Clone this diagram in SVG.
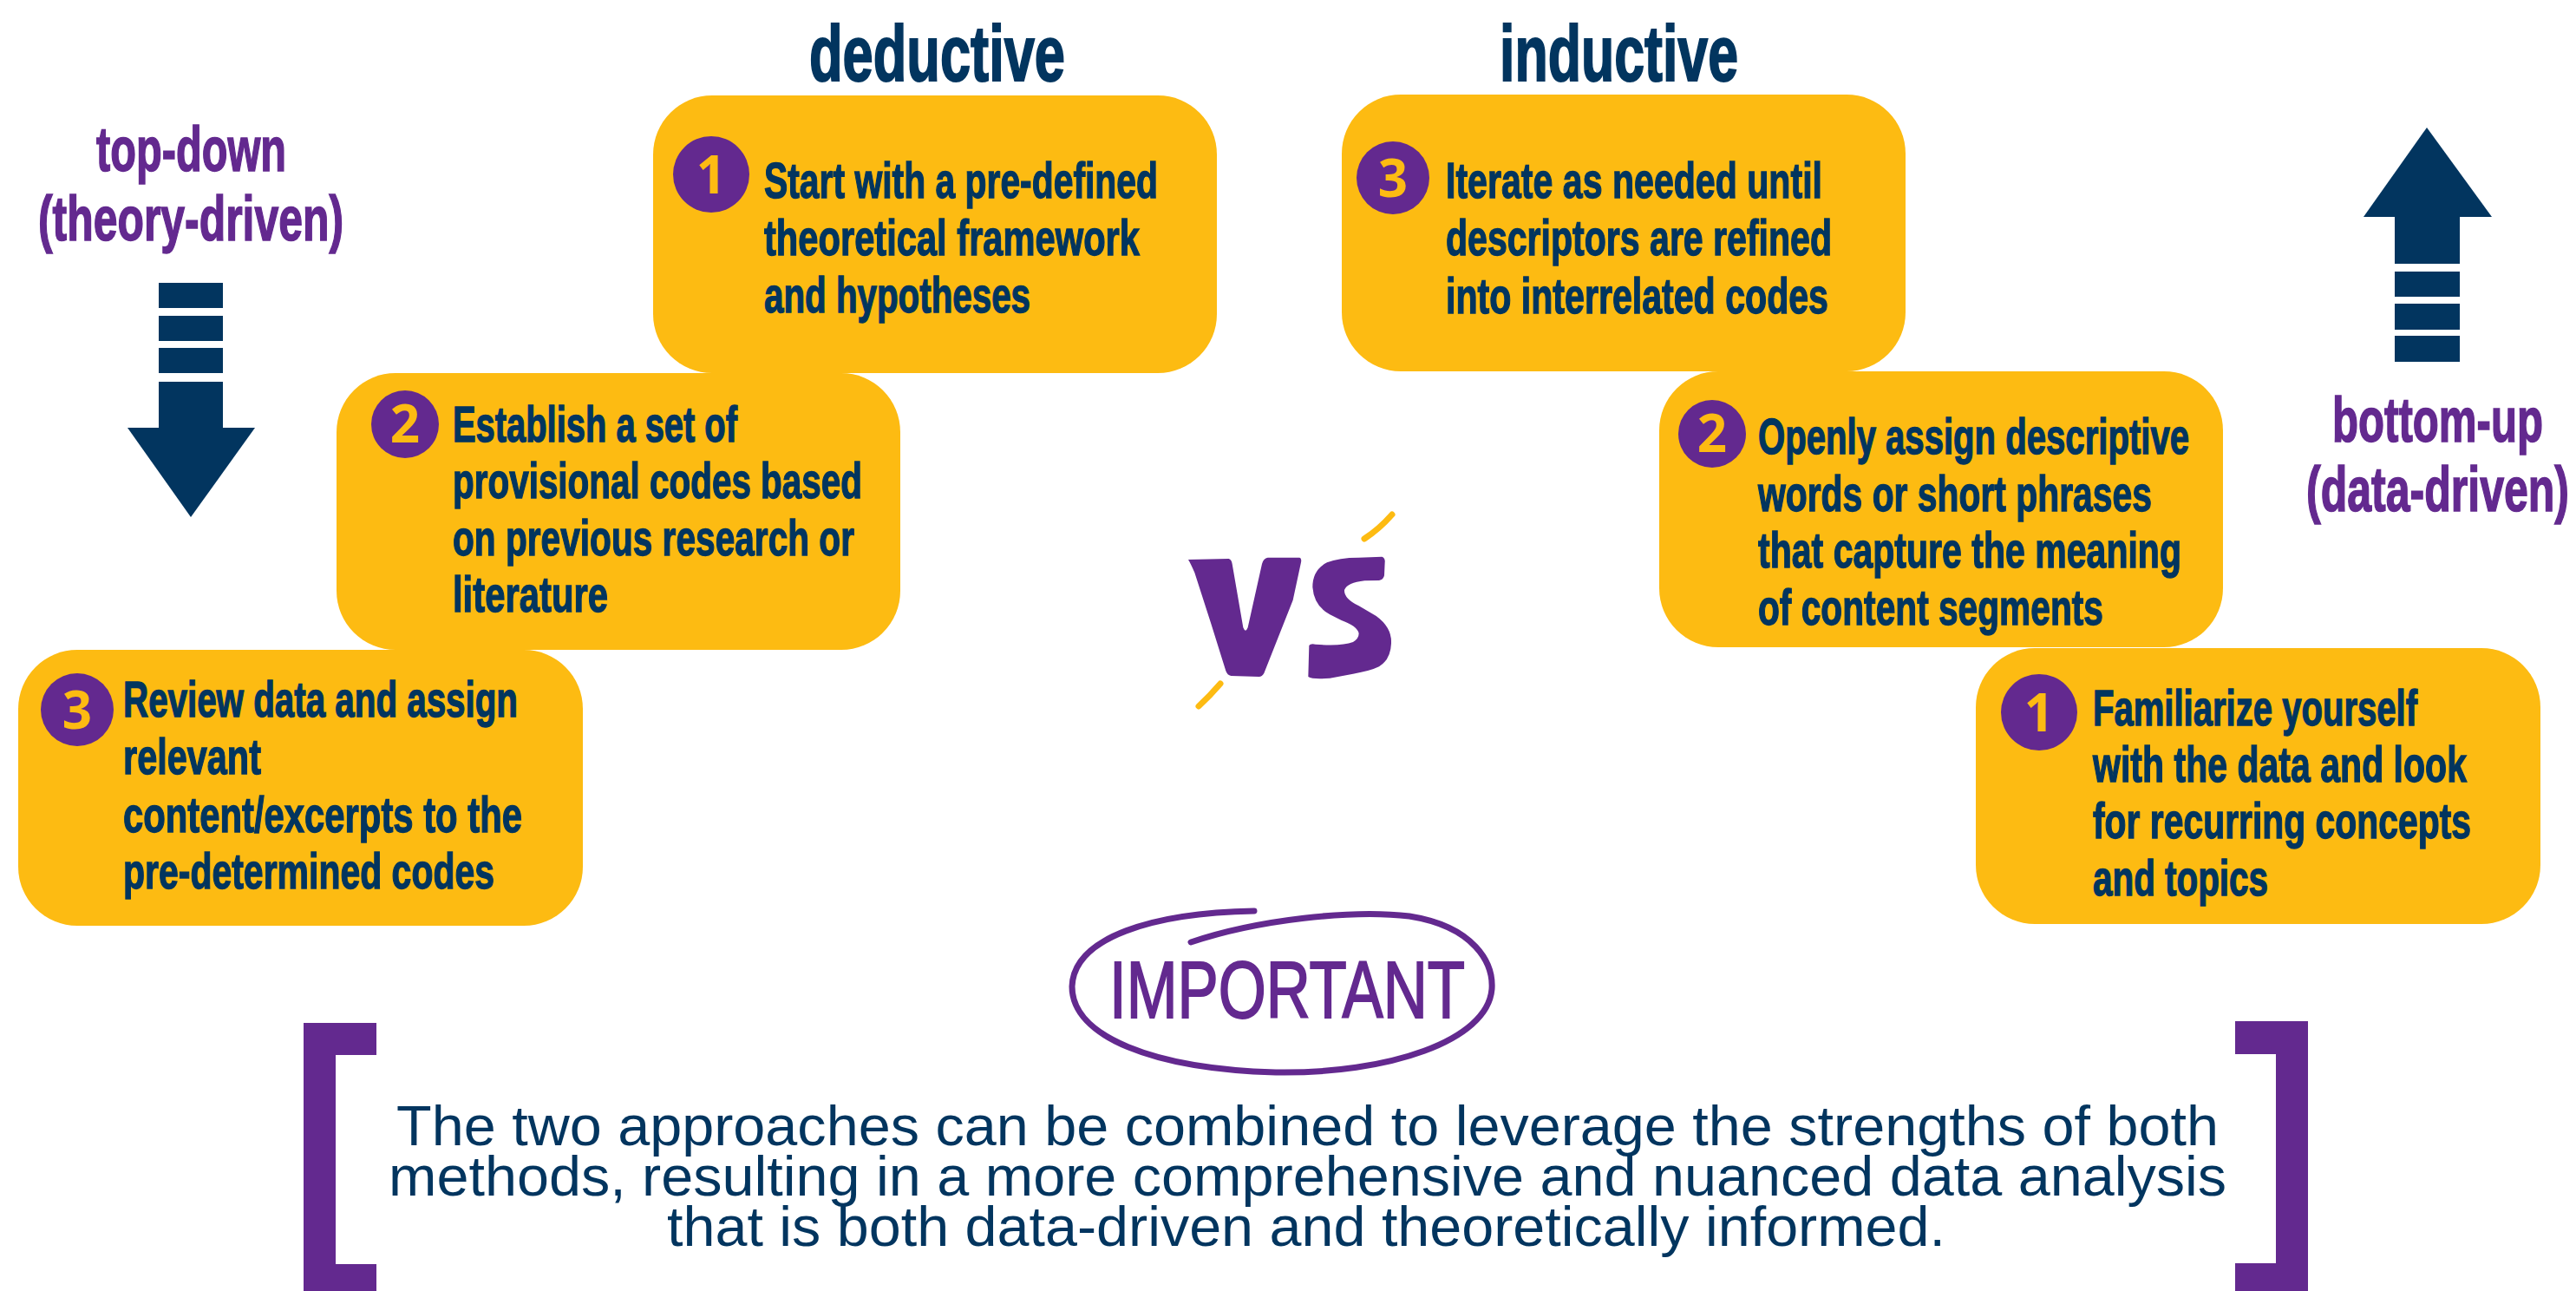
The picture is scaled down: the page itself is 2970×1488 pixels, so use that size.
<svg xmlns="http://www.w3.org/2000/svg" width="2970" height="1488" viewBox="0 0 2970 1488">
<style>
.box{fill:#FDBB12}
.circ{fill:#63298F}
.num{font-family:"Open Sans","Liberation Sans",sans-serif;font-weight:700;font-size:60px;fill:#FDBB12;text-anchor:middle}
.bt{font-family:"Liberation Sans Narrow","Liberation Sans",sans-serif;font-weight:700;font-size:57px;fill:#02355F;stroke:#02355F;stroke-width:1.4}
.hd{font-family:"Liberation Sans Narrow","Liberation Sans",sans-serif;font-weight:700;font-size:90px;fill:#02355F;stroke:#02355F;stroke-width:2}
.side{font-family:"Liberation Sans Narrow","Liberation Sans",sans-serif;font-weight:700;font-size:72px;fill:#63298F;stroke:#63298F;stroke-width:1.6}
.navy{fill:#02355F}
.purple{fill:#63298F}
.acc{fill:none;stroke:#FDBB12;stroke-width:7;stroke-linecap:round}
.foot{font-family:"Liberation Sans",Arial,sans-serif;font-size:65px;fill:#02355F}
</style>
<rect width="2970" height="1488" fill="#FFFFFF"/>

<g id="heading-deductive"><text class="hd" x="933" y="93" textLength="295" lengthAdjust="spacingAndGlyphs">deductive</text></g>
<g id="heading-inductive"><text class="hd" x="1729" y="93" textLength="275" lengthAdjust="spacingAndGlyphs">inductive</text></g>

<g id="label-top-down">
<text class="side" x="111" y="197" textLength="219" lengthAdjust="spacingAndGlyphs">top-down</text>
<text class="side" x="44" y="277" textLength="352" lengthAdjust="spacingAndGlyphs">(theory-driven)</text>
</g>
<g id="arrow-down" class="navy">
<rect x="183" y="326" width="74" height="29"/>
<rect x="183" y="364" width="74" height="29"/>
<rect x="183" y="401" width="74" height="29"/>
<rect x="183" y="440" width="74" height="54"/>
<polygon points="147,493 294,493 220,596"/>
</g>

<g id="label-bottom-up">
<text class="side" x="2689" y="509" textLength="243" lengthAdjust="spacingAndGlyphs">bottom-up</text>
<text class="side" x="2659" y="589" textLength="303" lengthAdjust="spacingAndGlyphs">(data-driven)</text>
</g>
<g id="arrow-up" class="navy">
<polygon points="2798,147 2873,250 2725,250"/>
<rect x="2761" y="249" width="75" height="55"/>
<rect x="2761" y="313" width="75" height="29"/>
<rect x="2761" y="350" width="75" height="30"/>
<rect x="2761" y="387" width="75" height="30"/>
</g>

<g id="deductive-1">
<rect class="box" x="753" y="110" width="650" height="320" rx="68" ry="68"/>
<circle class="circ" cx="820" cy="201" r="44"/>
<text class="num" x="820" y="223">1</text>
<text class="bt" x="881" y="228" textLength="454" lengthAdjust="spacingAndGlyphs">Start with a pre-defined</text>
<text class="bt" x="881" y="294" textLength="433" lengthAdjust="spacingAndGlyphs">theoretical framework</text>
<text class="bt" x="881" y="360" textLength="307" lengthAdjust="spacingAndGlyphs">and hypotheses</text>
</g>

<g id="deductive-2">
<rect class="box" x="388" y="430" width="650" height="319" rx="68" ry="68"/>
<circle class="circ" cx="467" cy="489" r="39"/>
<text class="num" x="467" y="510">2</text>
<text class="bt" x="522" y="509" textLength="328" lengthAdjust="spacingAndGlyphs">Establish a set of</text>
<text class="bt" x="522" y="574" textLength="472" lengthAdjust="spacingAndGlyphs">provisional codes based</text>
<text class="bt" x="522" y="640" textLength="463" lengthAdjust="spacingAndGlyphs">on previous research or</text>
<text class="bt" x="522" y="705" textLength="179" lengthAdjust="spacingAndGlyphs">literature</text>
</g>

<g id="deductive-3">
<rect class="box" x="21" y="749" width="651" height="318" rx="68" ry="68"/>
<circle class="circ" cx="89" cy="818" r="42"/>
<text class="num" x="89" y="840">3</text>
<text class="bt" x="142" y="826" textLength="455" lengthAdjust="spacingAndGlyphs">Review data and assign</text>
<text class="bt" x="142" y="892" textLength="159" lengthAdjust="spacingAndGlyphs">relevant</text>
<text class="bt" x="142" y="959" textLength="460" lengthAdjust="spacingAndGlyphs">content/excerpts to the</text>
<text class="bt" x="142" y="1024" textLength="428" lengthAdjust="spacingAndGlyphs">pre-determined codes</text>
</g>

<g id="inductive-3">
<rect class="box" x="1547" y="109" width="650" height="319" rx="68" ry="68"/>
<circle class="circ" cx="1606" cy="205" r="42"/>
<text class="num" x="1606" y="227">3</text>
<text class="bt" x="1667" y="228" textLength="434" lengthAdjust="spacingAndGlyphs">Iterate as needed until</text>
<text class="bt" x="1667" y="294" textLength="445" lengthAdjust="spacingAndGlyphs">descriptors are refined</text>
<text class="bt" x="1667" y="361" textLength="441" lengthAdjust="spacingAndGlyphs">into interrelated codes</text>
</g>

<g id="inductive-2">
<rect class="box" x="1913" y="428" width="650" height="318" rx="68" ry="68"/>
<circle class="circ" cx="1974" cy="500" r="39"/>
<text class="num" x="1974" y="521">2</text>
<text class="bt" x="2027" y="523" textLength="497" lengthAdjust="spacingAndGlyphs">Openly assign descriptive</text>
<text class="bt" x="2027" y="589" textLength="454" lengthAdjust="spacingAndGlyphs">words or short phrases</text>
<text class="bt" x="2027" y="654" textLength="488" lengthAdjust="spacingAndGlyphs">that capture the meaning</text>
<text class="bt" x="2027" y="720" textLength="398" lengthAdjust="spacingAndGlyphs">of content segments</text>
</g>

<g id="inductive-1">
<rect class="box" x="2278" y="747" width="651" height="318" rx="68" ry="68"/>
<circle class="circ" cx="2351" cy="821" r="44"/>
<text class="num" x="2351" y="843">1</text>
<text class="bt" x="2413" y="836" textLength="374" lengthAdjust="spacingAndGlyphs">Familiarize yourself</text>
<text class="bt" x="2413" y="901" textLength="431" lengthAdjust="spacingAndGlyphs">with the data and look</text>
<text class="bt" x="2413" y="966" textLength="436" lengthAdjust="spacingAndGlyphs">for recurring concepts</text>
<text class="bt" x="2413" y="1032" textLength="202" lengthAdjust="spacingAndGlyphs">and topics</text>
</g>

<g id="vs">
<g transform="translate(1300,560) scale(0.33333)" class="purple">
<path d="M210,255 L350,252 Q360,255 362,270 L400,490 Q408,510 416,490 L465,270 Q470,250 485,248 L595,248 Q603,250 600,265 L572,395 L472,648 Q465,660 455,660 L358,657 Q345,655 340,640 L290,480 L232,300 Q218,268 210,255 Z"/>
<path d="M880,245 Q892,250 890,265 L888,310 Q885,325 870,327 L820,328 Q760,335 750,360 Q748,390 800,415 L860,450 Q915,490 912,545 Q910,600 870,625 Q840,640 780,650 L700,665 Q640,670 625,660 L628,552 Q632,545 650,548 Q740,555 780,540 Q800,528 800,510 Q795,485 740,465 L700,445 Q645,415 640,350 Q640,290 690,265 Q730,248 800,248 Z"/>
</g>
<path class="acc" d="M1573,621 Q1590,610 1605,593"/>
<path class="acc" d="M1382,814 Q1395,802 1407,788"/>
</g>

<g id="important">
<path d="M1373,1086 C1450,1060 1560,1048 1625,1056 C1700,1068 1722,1110 1720,1140 C1715,1200 1600,1238 1471,1236 C1330,1232 1236,1195 1236,1137 C1238,1080 1330,1052 1446,1050" fill="none" stroke="#63298F" stroke-width="7" stroke-linecap="round"/>
<text x="1279" y="1173" textLength="410" lengthAdjust="spacingAndGlyphs" font-family="'Liberation Sans Narrow','Liberation Sans',sans-serif" font-size="92" fill="#63298F" stroke="#63298F" stroke-width="2">IMPORTANT</text>
</g>

<g id="bracket-left" class="purple">
<path d="M350,1179 H434 V1216 H387 V1457 H434 V1488 H350 Z"/>
</g>
<g id="bracket-right" class="purple">
<path d="M2661,1177 H2577 V1215 H2624 V1456 H2577 V1488 H2661 Z"/>
</g>

<g id="note">
<text class="foot" x="457" y="1320" textLength="2101" lengthAdjust="spacingAndGlyphs">The two approaches can be combined to leverage the strengths of both</text>
<text class="foot" x="448" y="1378" textLength="2119" lengthAdjust="spacingAndGlyphs">methods, resulting in a more comprehensive and nuanced data analysis</text>
<text class="foot" x="769" y="1436" textLength="1474" lengthAdjust="spacingAndGlyphs">that is both data-driven and theoretically informed.</text>
</g>
</svg>
